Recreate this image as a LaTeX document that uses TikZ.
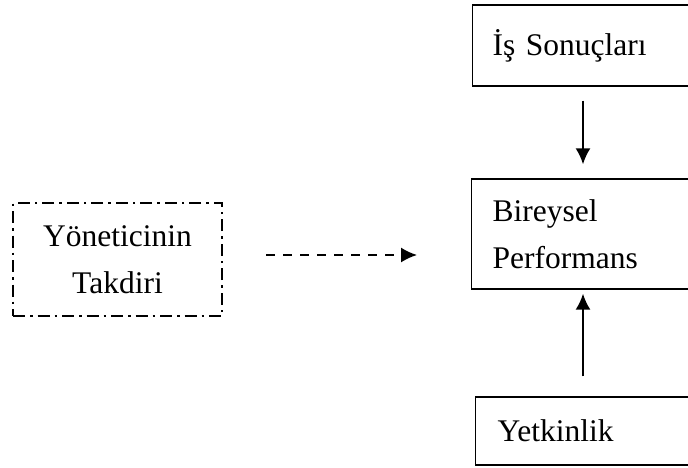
\documentclass[tikz,border=0pt]{standalone}
\usepackage{fontspec}
\setmainfont{Liberation Serif}
\usepackage{tikz}
\usetikzlibrary{arrows.meta, positioning}

\begin{document}
\begin{tikzpicture}[x=1pt, y=-1pt]
		\tikzset{
			txt/.style={font=\fontsize{31.5}{47.5}\selectfont},
			box/.style={rectangle, draw, solid, black, line width=1.4pt, txt, anchor=west,
			align=left, inner ysep=0pt, inner xsep=20pt, text width=230pt},
			dashbox/.style={rectangle, draw, black, line width=2pt, txt, align=center,
			minimum width=209pt, minimum height=113pt,
			dash pattern=on 12pt off 5pt on 2.5pt off 5pt},
			arr/.style={-{Latex[length=16pt, width=15pt]}, line width=1.8pt}
		}
		\useasboundingbox (0,0) rectangle (688,468);
		\clip (0,0) rectangle (688,468);
		\fill[white] (0,0) rectangle (688,468);

		\node[box, minimum height=81pt](sonuc) at (472,45.5){İş Sonuçları};
		\node[box, minimum height=110pt, inner xsep=21pt](perf) at (471,234){Bireysel\\Performans};
		\node[box, minimum height=68pt, inner xsep=22pt](yetkin) at (475,431){Yetkinlik};
		\node[dashbox](takdir) at (117.5,259.5){Yöneticinin\\Takdiri};

		\draw[arr, shorten <=14pt, shorten >=14pt](583,0 |- sonuc.south) -- (583,0 |- perf.north);
		\draw[arr, shorten <=20pt, shorten >=4pt](583,0 |- yetkin.north) -- (583,0 |- perf.south);
		\draw[arr, dash pattern=on 9pt off 8pt, shorten <=43pt, shorten >=54pt](takdir.east |- 0,255) -- (perf.west |- 0,255);

	\end{tikzpicture}
\end{document}
